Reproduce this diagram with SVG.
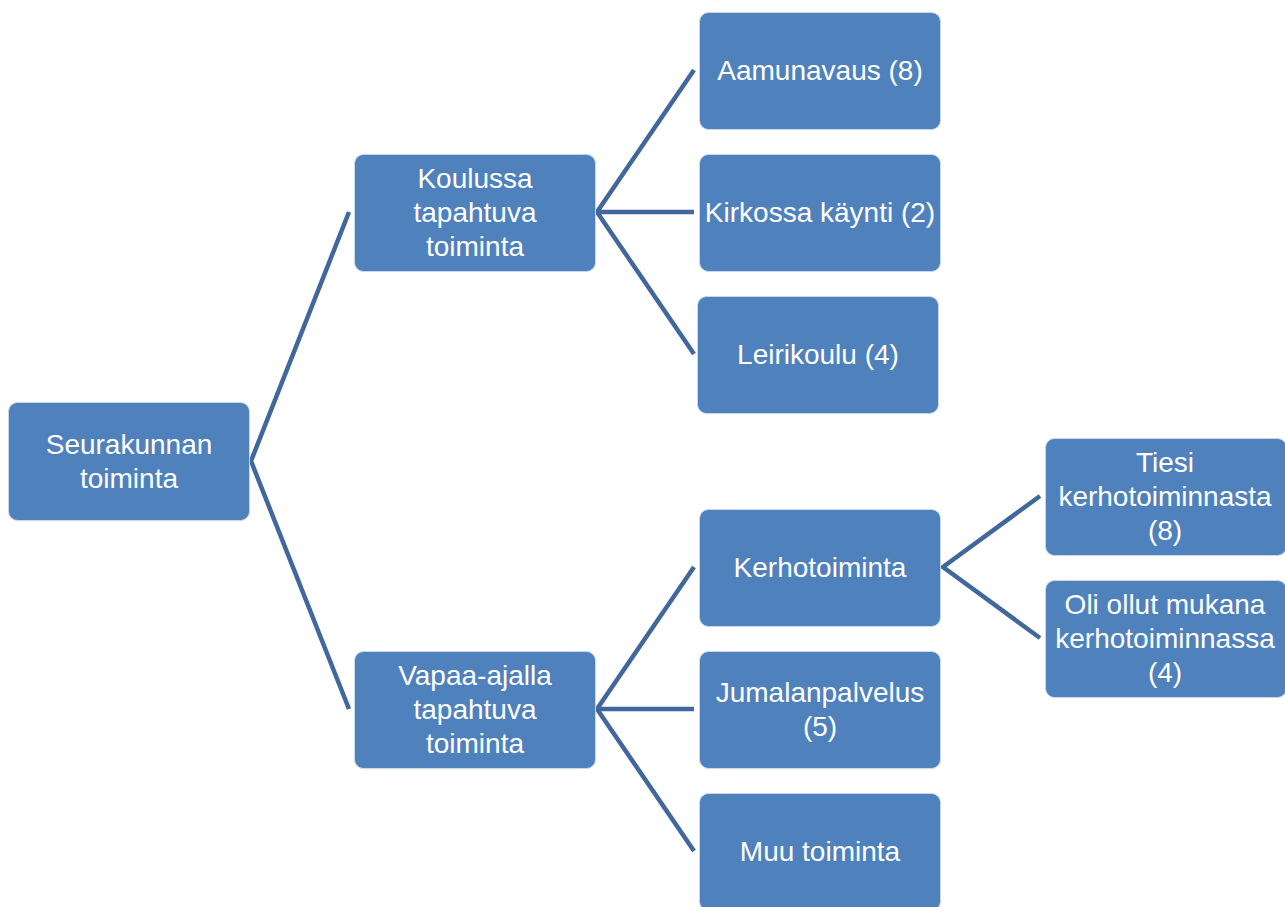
<svg xmlns="http://www.w3.org/2000/svg" width="1285" height="907" viewBox="0 0 1285 907">
<style>
.box{fill:#4F81BD;stroke:#C9D7EA;stroke-width:1}
.lbl{font-family:"Liberation Sans",Arial,sans-serif;font-size:28px;fill:#fff;text-anchor:middle}
.con{stroke:#41689C;stroke-width:4.5;fill:none;stroke-linecap:butt;stroke-linejoin:miter}
</style>
<rect width="1285" height="907" fill="#fff"/>
<g id="connectors">
<polyline class="con" points="349,212 251,461 349,709"/>
<polyline class="con" points="694,70 597,212 694,354"/>
<line class="con" x1="597" y1="212" x2="694" y2="212"/>
<polyline class="con" points="694,567 597,709 694,851"/>
<line class="con" x1="597" y1="709" x2="694" y2="709"/>
<polyline class="con" points="1040,496 943,567 1040,638"/>
</g>
<g id="n-seurakunnan"><rect class="box" x="8.5" y="402.5" width="241" height="118" rx="9"/><text class="lbl" x="129" y="454">Seurakunnan</text><text class="lbl" x="129" y="488">toiminta</text></g>
<g id="n-koulussa"><rect class="box" x="354.5" y="154.5" width="241" height="117" rx="9"/><text class="lbl" x="475" y="188">Koulussa</text><text class="lbl" x="475" y="222">tapahtuva</text><text class="lbl" x="475" y="256">toiminta</text></g>
<g id="n-vapaa"><rect class="box" x="354.5" y="651.5" width="241" height="117" rx="9"/><text class="lbl" x="475" y="685">Vapaa-ajalla</text><text class="lbl" x="475" y="719">tapahtuva</text><text class="lbl" x="475" y="753">toiminta</text></g>
<g id="n-aamunavaus"><rect class="box" x="699.5" y="12.5" width="241" height="117" rx="9"/><text class="lbl" x="820" y="80">Aamunavaus (8)</text></g>
<g id="n-kirkossa"><rect class="box" x="699.5" y="154.5" width="241" height="117" rx="9"/><text class="lbl" x="820" y="222">Kirkossa käynti (2)</text></g>
<g id="n-leirikoulu"><rect class="box" x="697.5" y="296.5" width="241" height="117" rx="9"/><text class="lbl" x="818" y="364">Leirikoulu (4)</text></g>
<g id="n-kerhotoiminta"><rect class="box" x="699.5" y="509.5" width="241" height="117" rx="9"/><text class="lbl" x="820" y="577">Kerhotoiminta</text></g>
<g id="n-jumalanpalvelus"><rect class="box" x="699.5" y="651.5" width="241" height="117" rx="9"/><text class="lbl" x="820" y="702">Jumalanpalvelus</text><text class="lbl" x="820" y="736">(5)</text></g>
<g id="n-muu"><rect class="box" x="699.5" y="793.5" width="241" height="117" rx="9"/><text class="lbl" x="820" y="861">Muu toiminta</text></g>
<g id="n-tiesi"><rect class="box" x="1045.5" y="438.5" width="241" height="117" rx="9"/><text class="lbl" x="1165" y="472">Tiesi</text><text class="lbl" x="1165" y="506">kerhotoiminnasta</text><text class="lbl" x="1165" y="540">(8)</text></g>
<g id="n-oli"><rect class="box" x="1045.5" y="580.5" width="241" height="117" rx="9"/><text class="lbl" x="1165" y="614">Oli ollut mukana</text><text class="lbl" x="1165" y="648">kerhotoiminnassa</text><text class="lbl" x="1165" y="682">(4)</text></g>
</svg>
